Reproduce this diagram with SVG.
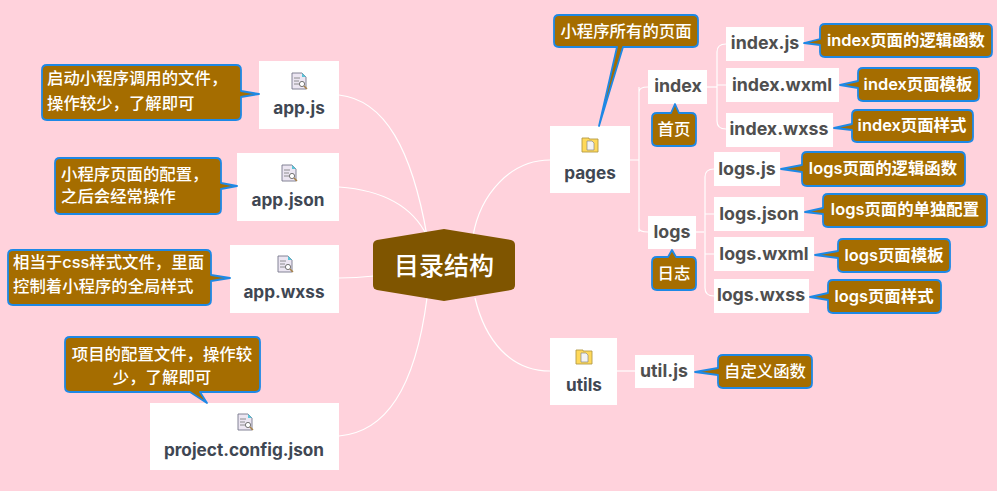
<svg xmlns="http://www.w3.org/2000/svg" width="997" height="491" viewBox="0 0 997 491">
<style>
text{font-family:"Inter","Open Sans","Noto Sans CJK SC",sans-serif;text-anchor:middle}
.box{fill:#fff}
.t{font-size:17.2px;font-weight:700;fill:#3f4753}
.s{font-size:17.8px;font-weight:700;fill:#4f4f4f}
.cb{fill:#a56d00;stroke:#1e88e5;stroke-width:1.8;stroke-linejoin:round}
.c{font-size:16.4px;fill:#fff;font-weight:500;font-family:"Noto Sans CJK SC",sans-serif}
.cl{font-size:16.4px;fill:#fff;font-weight:600;font-family:"Inter","Noto Sans CJK SC",sans-serif}
.ca{font-size:16.4px;fill:#fff;font-weight:500;font-family:"Inter","Noto Sans CJK SC",sans-serif}
.st{text-anchor:start}
#connectors path{fill:none;stroke:#fff;stroke-width:1.2}
</style>
<defs>
<g id="doc"><path d="M-7-8H3L7-4V8H-7Z" fill="#ece6f2" stroke="#77768a" stroke-width=".9"/><path d="M3-8L7-4H3Z" fill="#5cc4d8"/><path d="M-5-3H1M-5 0H0M-5 3H0" stroke="#777" stroke-width=".8"/><circle cx="3" cy="3" r="2.6" fill="#fff" stroke="#666" stroke-width=".9"/><path d="M5 5L8 8" stroke="#a88248" stroke-width="1.5"/></g>
<g id="folder"><path d="M-8-7H-1V-6H8V7H-8Z" fill="#ffd95a" stroke="#b39a45" stroke-width=".9"/><path d="M-3-4H2L4-2V5H-3Z" fill="#f3f3f3" stroke="#888" stroke-width=".7"/></g>
</defs>
<rect width="997" height="491" fill="#ffd2dc"/>
<g id="connectors">
<path d="M339 95C385 100 412 150 427 236"/>
<path d="M339 187C380 190 412 205 427 236"/>
<path d="M339 278C355 278 365 277 374 276"/>
<path d="M339 436C385 432 415 390 427 298"/>
<path d="M473 236C480 195 510 160 550 160"/>
<path d="M475 298C485 340 510 371 550 371"/>
<path d="M630 160H639M639 92Q639 87 648 87M639 228Q639 232 648 232M639 87V232"/>
<path d="M707 87H717"/>
<path d="M726 44Q717 44 717 52V121Q717 129 726 129M717 85H726"/>
<path d="M696 232H704"/>
<path d="M714 169Q705 169 705 177V288Q705 296 714 296M705 214H714M705 254H714"/>
<path d="M617 371H635"/>
</g>
<g id="root"><path d="M377 240L444 229L511 240Q515 241 515 245V285Q515 289 511 290L444 301L377 290Q373 289 373 285V245Q373 241 377 240Z" fill="#7f5500"/><text x="444" y="275" font-size="25" font-weight="500" fill="#fff" style="font-family:'Noto Sans CJK SC',sans-serif">目录结构</text></g>

<g id="n-appjs"><rect class="box" x="259" y="61" width="80" height="68"/><use href="#doc" x="299" y="81"/><text class="t" x="299" y="114">app.js</text>
<path class="cb" d="M47 65H236Q241 65 241 70V91L259 94L241 97V115Q241 120 236 120H47Q42 120 42 115V70Q42 65 47 65Z"/><text class="c st" x="47" y="84">启动小程序调用的文件，</text><text class="c st" x="47" y="109">操作较少，了解即可</text></g>

<g id="n-appjson"><rect class="box" x="237" y="153" width="102" height="68"/><use href="#doc" x="289" y="173"/><text class="t" x="288" y="206">app.json</text>
<path class="cb" d="M60 158H216Q221 158 221 163V183L237 186L221 189V209Q221 214 216 214H60Q55 214 55 209V163Q55 158 60 158Z"/><text class="c st" x="61" y="180">小程序页面的配置，</text><text class="c st" x="61" y="202">之后会经常操作</text></g>

<g id="n-appwxss"><rect class="box" x="230" y="245" width="109" height="68"/><use href="#doc" x="285" y="264"/><text class="t" x="284" y="298">app.wxss</text>
<path class="cb" d="M13 250H206Q211 250 211 255V275L230 278L211 281V300Q211 305 206 305H13Q8 305 8 300V255Q8 250 13 250Z"/><text class="ca st" x="13" y="268">相当于css样式文件，里面</text><text class="c st" x="13" y="292">控制着小程序的全局样式</text></g>

<g id="n-project"><rect class="box" x="150" y="403" width="189" height="67"/><use href="#doc" x="245" y="422"/><text class="t" x="244" y="456">project.config.json</text>
<path class="cb" d="M70 337H255Q260 337 260 342V387Q260 392 255 392H200L207 403L190 392H70Q65 392 65 387V342Q65 337 70 337Z"/><text class="c" x="162" y="360">项目的配置文件，操作较</text><text class="c" x="162" y="383">少，了解即可</text></g>

<g id="n-pages"><rect class="box" x="550" y="126" width="80" height="67"/><use href="#folder" x="590" y="145"/><text class="t" x="590" y="179">pages</text>
<path class="cb" d="M559 15H693Q698 15 698 20V42Q698 47 693 47H623L599 126L617 47H559Q554 47 554 42V20Q554 15 559 15Z"/><text class="c" x="626" y="37">小程序所有的页面</text></g>

<g id="n-index"><rect class="box" x="648" y="70" width="59" height="34"/><text class="s" x="678" y="92">index</text>
<path class="cb" d="M657 113H671L675 104L679 113H691Q696 113 696 118V141Q696 146 691 146H657Q652 146 652 141V118Q652 113 657 113Z"/><text class="c" x="674" y="135">首页</text></g>

<g id="n-indexjs"><rect class="box" x="726" y="27" width="78" height="34"/><text class="s" x="765" y="49">index.js</text>
<path class="cb" d="M825 24H987Q992 24 992 29V52Q992 57 987 57H825Q820 57 820 52V45L804 43L820 39V29Q820 24 825 24Z"/><text class="cl" x="906" y="46">index页面的逻辑函数</text></g>

<g id="n-indexwxml"><rect class="box" x="726" y="68" width="113" height="34"/><text class="s" x="782" y="91">index.wxml</text>
<path class="cb" d="M863 68H974Q979 68 979 73V96Q979 101 974 101H863Q858 101 858 96V88L840 85L858 81V73Q858 68 863 68Z"/><text class="cl" x="918" y="90">index页面模板</text></g>

<g id="n-indexwxss"><rect class="box" x="726" y="113" width="107" height="34"/><text class="s" x="779" y="135">index.wxss</text>
<path class="cb" d="M857 110H968Q973 110 973 115V137Q973 142 968 142H857Q852 142 852 137V130L834 128L852 124V115Q852 110 857 110Z"/><text class="cl" x="912" y="131">index页面样式</text></g>

<g id="n-logs"><rect class="box" x="648" y="216" width="48" height="33"/><text class="s" x="672" y="238">logs</text>
<path class="cb" d="M657 257H668L672 250L676 257H691Q696 257 696 262V285Q696 290 691 290H657Q652 290 652 285V262Q652 257 657 257Z"/><text class="c" x="674" y="279">日志</text></g>

<g id="n-logsjs"><rect class="box" x="714" y="152" width="66" height="34"/><text class="s" x="747" y="175">logs.js</text>
<path class="cb" d="M807 152H960Q965 152 965 157V181Q965 186 960 186H807Q802 186 802 181V172L781 169L802 165V157Q802 152 807 152Z"/><text class="cl" x="883" y="174">logs页面的逻辑函数</text></g>

<g id="n-logsjson"><rect class="box" x="714" y="197" width="90" height="34"/><text class="s" x="759" y="220">logs.json</text>
<path class="cb" d="M828 194H982Q987 194 987 199V222Q987 227 982 227H828Q823 227 823 222V214L805 212L823 208V199Q823 194 828 194Z"/><text class="cl" x="905" y="215">logs页面的单独配置</text></g>

<g id="n-logswxml"><rect class="box" x="714" y="237" width="100" height="34"/><text class="s" x="764" y="260">logs.wxml</text>
<path class="cb" d="M843 239H945Q950 239 950 244V267Q950 272 945 272H843Q838 272 838 267V258L815 255L838 251V244Q838 239 843 239Z"/><text class="cl" x="894" y="261">logs页面模板</text></g>

<g id="n-logswxss"><rect class="box" x="714" y="279" width="95" height="34"/><text class="s" x="761" y="301">logs.wxss</text>
<path class="cb" d="M833 280H936Q941 280 941 285V308Q941 313 936 313H833Q828 313 828 308V300L810 297L828 293V285Q828 280 833 280Z"/><text class="cl" x="884" y="302">logs页面样式</text></g>

<g id="n-utils"><rect class="box" x="550" y="338" width="67" height="67"/><use href="#folder" x="584" y="357"/><text class="t" x="584" y="391">utils</text></g>

<g id="n-utiljs"><rect class="box" x="635" y="355" width="59" height="33"/><text class="s" x="664" y="377">util.js</text>
<path class="cb" d="M723 355H807Q812 355 812 360V383Q812 388 807 388H723Q718 388 718 383V375L695 372L718 368V360Q718 355 723 355Z"/><text class="c" x="765" y="377">自定义函数</text></g>
</svg>
